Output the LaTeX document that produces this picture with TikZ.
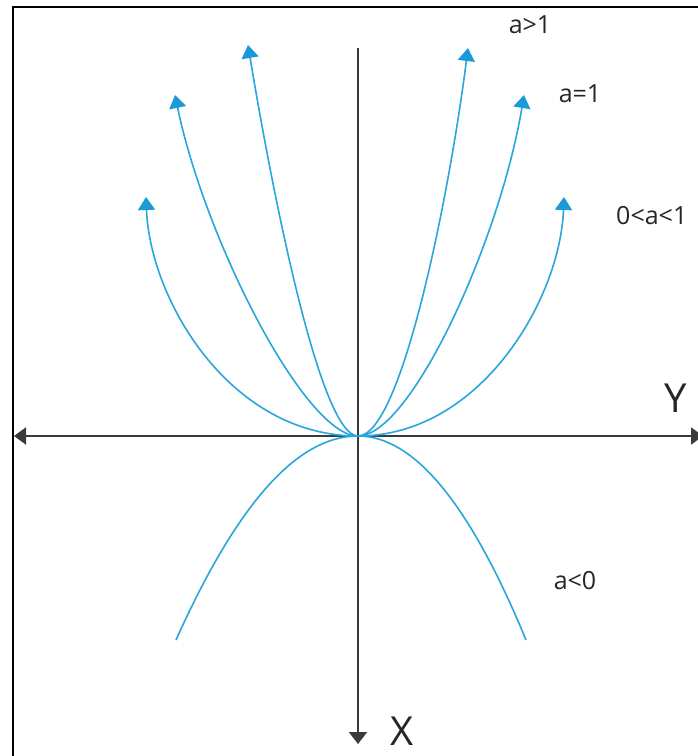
\documentclass[tikz,border=0pt]{standalone}
\usepackage{fontspec}
\setmainfont{Open Sans}
\usetikzlibrary{arrows.meta}
\definecolor{Curve}{HTML}{2AA6DC}
\definecolor{Tip}{HTML}{1A9AD6}
\definecolor{Axis}{HTML}{3A3A3A}

\begin{document}
\begin{tikzpicture}[
    x=1pt, y=-1pt,
    curve/.style={draw=Curve, line width=1.6pt},
    tipped/.style={curve,
      {Triangle[width=17pt,length=13pt,color=Tip]}-{Triangle[width=17pt,length=13pt,color=Tip]}},
    axis/.style={draw=Axis, line width=2pt},
    lbl/.style={font=\fontsize{25}{28}\selectfont, text=black!85, inner sep=0pt},
    axlbl/.style={font=\fontsize{40}{44}\selectfont, text=black!85, inner sep=0pt}
  ]
    \useasboundingbox (0,0) rectangle (698,756);
    \fill[white] (0,0) rectangle (698,756);
    % frame
    \draw[line width=2pt] (13,756) -- (13,7) -- (705,7);

    \coordinate (O) at (358,436);
    \coordinate (west) at (14,436);
    \coordinate (east) at (703,436);
    \coordinate (north) at (358,48);
    \coordinate (south) at (358,744);

    % axes
    \draw[axis, {Triangle[width=17pt,length=12pt]}-{Triangle[width=17pt,length=12pt]}] (west) -- (east);
    \draw[axis, -{Triangle[width=18pt,length=12pt]}] (north) -- (south);

    % 0<a<1
    \coordinate (smallL) at (146,197);
    \coordinate (smallR) at (564,197);
    \draw[tipped] (smallL) .. controls (150,300) and (230,436) .. (O)
      .. controls (480,436) and (560,300) .. (smallR);
    % a=1
    \coordinate (oneL) at (175,95);
    \coordinate (oneR) at (524,95);
    \draw[tipped] (oneL) .. controls (205,240) and (305,436) .. (O)
      .. controls (411,436) and (500,240) .. (oneR);
    % a>1
    \coordinate (bigL) at (248,45);
    \coordinate (bigR) at (468,48);
    \draw[tipped] (bigL) .. controls (272,190) and (320,436) .. (O)
      .. controls (402,436) and (450,190) .. (bigR);
    % a<0
    \coordinate (negL) at (176,640);
    \coordinate (negR) at (526,640);
    \draw[curve] (negL) .. controls (237,504) and (297,436) .. (O)
      .. controls (414,436) and (470,504) .. (negR);

    % labels
    \node[lbl] (gt) at (530,25) {a>1};
    \node[lbl] (eq) at (580,94) {a=1};
    \node[lbl, anchor=west] (mid) at (616,216) {0<a<1};
    \node[lbl] (neg) at (575,581) {a<0};
    \node[axlbl] (ylbl) at (676,398) {Y};
    \node[axlbl] (xlbl) at (402,731) {X};
\end{tikzpicture}
\end{document}
